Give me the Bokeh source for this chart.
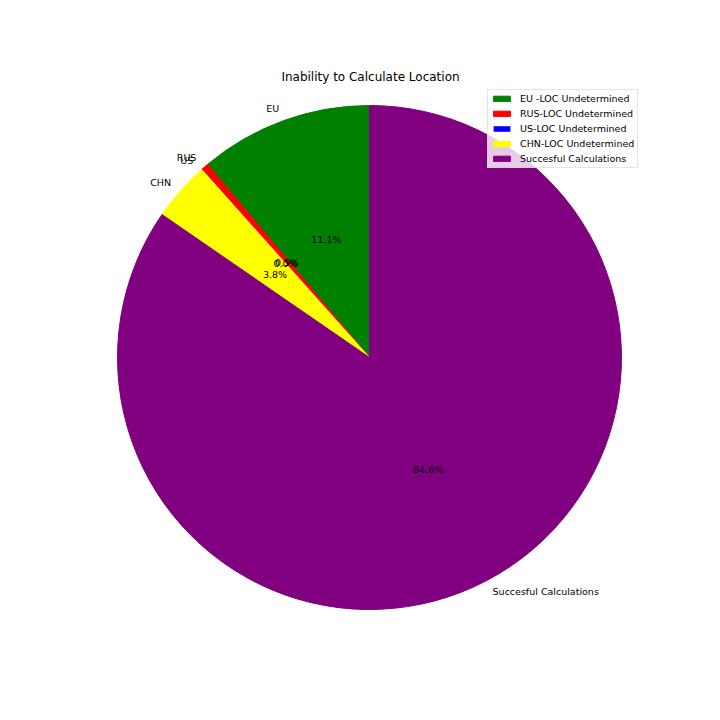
import numpy as np
from bokeh.plotting import figure
from bokeh.models import ColumnDataSource, Range1d, Legend, LegendItem, Label
from bokeh.core.properties import value
from bokeh.embed import file_html
from bokeh.resources import INLINE

# ---- data ----
labels = ["EU", "RUS", "US", "CHN", "Succesful Calculations"]
legend_labels = ["EU -LOC Undetermined", "RUS-LOC Undetermined", "US-LOC Undetermined",
                 "CHN-LOC Undetermined", "Succesful Calculations"]
values = [11.1, 0.5, 0.0, 3.8, 84.6]
colors = ["green", "red", "blue", "yellow", "purple"]
title_text = "Inability to Calculate Location"

# ---- geometry derived from data ----
vals = np.array(values, dtype=float)
frac = vals / vals.sum()
start_deg = 90.0
cum = np.concatenate([[0.0], np.cumsum(frac)])
starts = np.deg2rad(start_deg + 360.0 * cum[:-1])
ends = np.deg2rad(start_deg + 360.0 * cum[1:])
mids = (starts + ends) / 2.0
# zero-size slices: keep a vanishing sweep so the SVG arc is not read as a full circle
ends_draw = np.maximum(ends, starts + 1e-6)

label_dist = 1.05
pct_dist = 0.5
lx = label_dist * np.cos(mids)
ly = label_dist * np.sin(mids)
px = pct_dist * np.cos(mids)
py = pct_dist * np.sin(mids)
aligns = ["right" if x < 0 else "left" for x in lx]
pct_text = ["{:.1f}%".format(f * 100) for f in frac]
line_alpha = [1.0 if v > 0 else 0.0 for v in vals]

src = ColumnDataSource(dict(start=starts, end=ends_draw, color=colors, legend=legend_labels,
                            la=line_alpha))
lab_src = ColumnDataSource(dict(x=lx, y=ly, text=labels, align=aligns))
pct_src = ColumnDataSource(dict(x=px, y=py, text=pct_text))

R = 252.0
CX, CY = 369.0, 357.0
W = 704
p = figure(width=W, height=W, output_backend="svg", toolbar_location=None,
           x_range=Range1d((0 - CX) / R, (W - CX) / R),
           y_range=Range1d((CY - W) / R, (CY - 0) / R),
           min_border=0)
p.axis.visible = False
p.grid.visible = False
p.outline_line_color = None
p.background_fill_color = "white"
p.border_fill_color = "white"

r = p.wedge(x=0, y=0, radius=1.0, start_angle="start", end_angle="end",
            fill_color="color", line_color="color", line_alpha="la", line_width=1,
            source=src)

FS = "9.5px"
p.text(x="x", y="y", text="text", source=lab_src, text_align="align",
       text_baseline="middle", text_font=value("DejaVu Sans"), text_font_size=FS,
       text_color="black")
p.text(x="x", y="y", text="text", source=pct_src, text_align="center",
       text_baseline="middle", text_font=value("DejaVu Sans"), text_font_size=FS,
       text_color="black")

items = [LegendItem(label=legend_labels[i], renderers=[r], index=i) for i in range(len(labels))]
legend = Legend(items=items, location=(487, 536),
                label_text_font="DejaVu Sans", label_text_font_size=FS,
                label_text_color="black",
                glyph_width=21, glyph_height=7, label_height=11, spacing=4,
                padding=3, label_standoff=8, margin=0,
                border_line_color="#cccccc", border_line_width=1,
                background_fill_color="white", background_fill_alpha=0.8)
p.add_layout(legend, "center")

p.add_layout(Label(x=370, y=628, x_units="screen", y_units="screen", text=title_text,
                   text_align="center", text_baseline="middle",
                   text_font="DejaVu Sans", text_font_size="12px",
                   text_color="black"))

open("out.html", "w").write(file_html(p, INLINE))
